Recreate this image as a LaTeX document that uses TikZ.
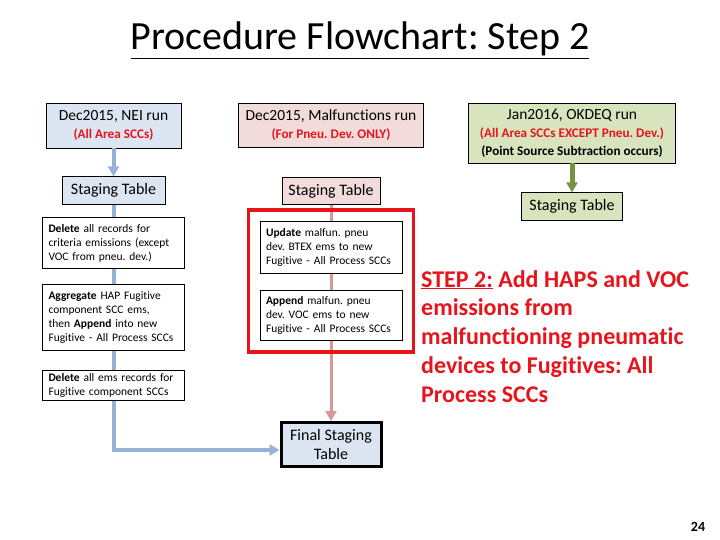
\documentclass[tikz,border=0pt]{standalone}
\usepackage{fontspec}
\setmainfont{Carlito}[Ligatures=NoCommon]
\usepackage{tikz}
\usetikzlibrary{arrows.meta,positioning,fit}
\frenchspacing
\definecolor{bluefill}{HTML}{DCE6F2}
\definecolor{blueline}{HTML}{95B3D7}
\definecolor{pinkfill}{HTML}{F2DCDB}
\definecolor{pinkline}{HTML}{D99694}
\definecolor{greenfill}{HTML}{D7E4BD}
\definecolor{greenline}{HTML}{77933C}
\definecolor{alertred}{HTML}{E8141C}
\newcommand\redsub{\fontsize{13.2}{16}\selectfont\bfseries\color{alertred}}
\newcommand\darksub{\fontsize{13.2}{16}\selectfont\bfseries}
\tikzset{
  >={Triangle[width=11pt,length=10pt]},
  blueflow/.style={draw=blueline,line width=4pt},
  pinkflow/.style={draw=pinkline,line width=3pt},
  greenflow/.style={draw=greenline,line width=5pt},
  runbox/.style={draw=black,line width=.8pt,align=center,inner sep=0pt,
                 font=\fontsize{15.5}{17}\selectfont},
  stagebox/.style={draw=black,line width=.8pt,align=center,inner sep=0pt,
                   minimum height=28pt,font=\fontsize{16}{19.5}\selectfont},
  taskbox/.style={draw=black,line width=.8pt,fill=white,align=left,inner xsep=6pt,
                  inner ysep=0pt,text width=130pt,font=\fontsize{11.5}{14}\selectfont},
  stepnote/.style={align=left,inner sep=0pt,text=alertred,
                   font=\fontsize{24}{28.8}\selectfont\bfseries},
}
\begin{document}
\begin{tikzpicture}[x=1pt,y=-1pt]
  \useasboundingbox (0,0) rectangle (720,540);
  \node[anchor=base,font=\fontsize{40}{44}\selectfont] (title) at (360,50) {\underline{Procedure Flowchart: Step 2}};

  % NEI run
  \node[runbox,fill=bluefill,minimum width=135pt,minimum height=45pt] (nei) at (113.5,125.5) {Dec2015, NEI run\\[1pt]{\redsub (All Area SCCs)}};
  \node[stagebox,fill=bluefill,minimum width=103pt,below=28pt of nei] (neistage) {Staging Table};
  \node[taskbox,minimum height=51pt,below=12pt of neistage] (neidel) {\textbf{Delete} all records for\\criteria emissions (except\\VOC from pneu.\ dev.)};
  \node[taskbox,minimum height=66pt,below=15pt of neidel] (neiagg) {\textbf{Aggregate} HAP Fugitive\\component SCC ems,\\then \textbf{Append} into new\\Fugitive - All Process SCCs};
  \node[taskbox,minimum height=30pt,below=19pt of neiagg] (neiclean) {\textbf{Delete} all ems records for\\Fugitive component SCCs};

  % Malfunctions run
  \node[runbox,fill=pinkfill,minimum width=185pt,minimum height=44pt] (mal) at (331,125) {Dec2015, Malfunctions run\\[1pt]{\redsub (For Pneu. Dev. ONLY)}};
  \node[stagebox,fill=pinkfill,minimum width=98pt,minimum height=27pt,below=30pt of mal] (malstage) {Staging Table};
  \node[taskbox,minimum height=52pt,below=16pt of malstage] (malupd) {\textbf{Update} malfun.\ pneu\\dev.\ BTEX ems to new\\Fugitive - All Process SCCs};
  \node[taskbox,minimum height=50pt,below=16pt of malupd] (malapp) {\textbf{Append} malfun.\ pneu\\dev.\ VOC ems to new\\Fugitive - All Process SCCs};

  % OKDEQ run
  \node[runbox,fill=greenfill,minimum width=207pt,minimum height=60pt] (okdeq) at (572,133) {Jan2016, OKDEQ run\\[1pt]{\redsub (All Area SCCs EXCEPT Pneu. Dev.)}\\[1pt]{\darksub (Point Source Subtraction occurs)}};
  \node[stagebox,fill=greenfill,minimum width=101pt,below=29pt of okdeq] (okstage) {Staging Table};

  \node[stagebox,fill=bluefill,line width=3pt,minimum width=100pt,minimum height=44pt] (final) at (331,444.5) {Final Staging\\Table};

  \draw[blueflow,->] (nei) -- (neistage);
  \draw[blueflow] (neistage) -- (neidel);
  \draw[blueflow] (neidel) -- (neiagg);
  \draw[blueflow] (neiagg) -- (neiclean);
  \draw[blueflow,->] (neiclean) |- ([yshift=-5.5pt]final.west);
  \draw[pinkflow] (malstage) -- (malupd);
  \draw[pinkflow] (malupd) -- (malapp);
  \draw[pinkflow,->] (malapp) -- (final);
  \draw[greenflow,->] (okdeq) -- (okstage);

  \node[draw=alertred,line width=3.5pt,fit=(malupd)(malapp),inner xsep=11pt,inner ysep=11pt] (frame) {};

  \node[stepnote,anchor=north west] (stepnote) at (421,270) {\underline{STEP 2:} Add HAPS and VOC\\emissions from\\malfunctioning pneumatic\\devices to Fugitives: All\\Process SCCs};
  \node[font=\fontsize{14}{16}\selectfont\bfseries] (pagenum) at (698,527) {24};
\end{tikzpicture}
\end{document}
